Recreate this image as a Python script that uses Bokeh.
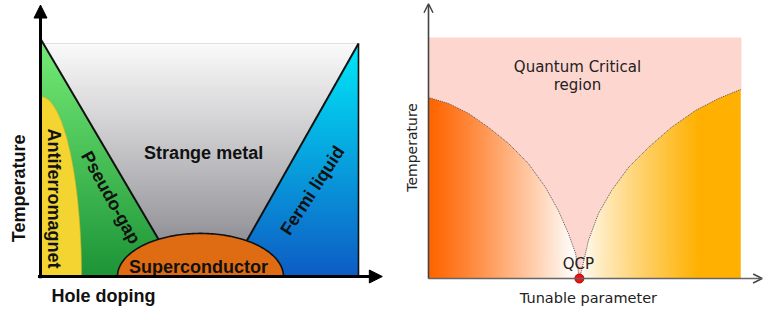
import numpy as np
from bokeh.plotting import figure
from bokeh.models import Range1d, Arrow, NormalHead, OpenHead, ColumnDataSource
from bokeh.layouts import row
from bokeh.embed import file_html
from bokeh.resources import INLINE
from bokeh.core.properties import value

# ================= Left panel: cuprate phase diagram (doping x, temperature T, normalised)
PG_LINE_X = [0.0, 0.44]        # pseudo-gap boundary (x at the two T values)
PG_LINE_T = [1.02, 0.0]
FL_LINE_X = [0.585, 1.0]       # Fermi-liquid boundary
FL_LINE_T = [0.0, 1.0]
DIAGRAM_RIGHT_X = 1.0
DIAGRAM_TOP_T = 1.0
AF_WIDTH = 0.129               # antiferromagnet dome (quarter ellipse)
AF_HEIGHT = 0.773
SC_CENTER = 0.503              # superconducting dome (half ellipse)
SC_HALF_WIDTH = 0.261
SC_HEIGHT = 0.185

LEFT_LABELS = ["Strange metal", "Antiferromagnet", "Pseudo-gap", "Fermi liquid", "Superconductor"]
LEFT_LABEL_X = [0.513, 0.041, 0.221, 0.855, 0.497]
LEFT_LABEL_T = [0.532, 0.335, 0.339, 0.369, 0.039]
LEFT_LABEL_ANGLE = [0, -90, -61, 57, 0]

# ================= Right panel: quantum critical point (tunable parameter g, temperature T)
QCP_G = 0.482
QC_TOP_T = 1.0
QC_RIGHT_G = 1.0
LEFT_PHASE_G = [0.0, 0.064, 0.128, 0.192, 0.256, 0.319, 0.374, 0.415, 0.447, 0.470, 0.482]
LEFT_PHASE_T = [0.751, 0.726, 0.685, 0.627, 0.560, 0.477, 0.378, 0.282, 0.187, 0.104, 0.0]
RIGHT_PHASE_G = [0.482, 0.489, 0.511, 0.543, 0.585, 0.639, 0.703, 0.776, 0.853, 0.927, 0.997]
RIGHT_PHASE_T = [0.0, 0.033, 0.158, 0.270, 0.365, 0.461, 0.544, 0.627, 0.697, 0.747, 0.784]


def mix(c0, c1, f):
    f = np.clip(np.nan_to_num(f), 0, 1)
    return ["#%02x%02x%02x" % tuple(int(round(a + (b - a) * t)) for a, b in zip(c0, c1)) for t in f]


def line_x(lx, lt, t):
    return lx[0] + (np.asarray(t) - lt[0]) * (lx[1] - lx[0]) / (lt[1] - lt[0])


H = 309
# ---------------------------------------------------------------- left figure
pL = figure(width=391, height=H, x_range=Range1d(-0.1258, 1.1038), y_range=Range1d(-0.1416, 1.1845),
            output_backend="svg", toolbar_location=None, min_border=0,
            x_axis_location=None, y_axis_location=None, outline_line_color=None,
            background_fill_color="white", border_fill_color="white")
pL.grid.visible = False

N = 140
ov = 0.006


def band_patches(t_lo, t_hi, left_fn, right_fn):
    e = np.linspace(t_lo, t_hi, N + 1)
    xs, ys, mids = [], [], []
    for a, b in zip(e[:-1], e[1:]):
        b2 = min(b + ov, t_hi)
        xs.append([left_fn(a), right_fn(a), right_fn(b2), left_fn(b2)])
        ys.append([a, a, b2, b2])
        mids.append((a + b) / 2)
    return xs, ys, np.array(mids)


pg = lambda t: float(line_x(PG_LINE_X, PG_LINE_T, t))
fl = lambda t: float(line_x(FL_LINE_X, FL_LINE_T, t))

# gray strange-metal band
xs, ys, m = band_patches(0.0, DIAGRAM_TOP_T, pg, fl)
pL.patches(xs, ys, fill_color=mix((138, 138, 144), (250, 250, 250), np.clip((m - 0.12) / 0.88, 0, 1) ** 0.9),
           line_color=None)
# green pseudo-gap band
xs, ys, m = band_patches(0.0, PG_LINE_T[0], lambda t: 0.0, pg)
pL.patches(xs, ys, fill_color=mix((28, 148, 55), (118, 236, 118), m / PG_LINE_T[0]), line_color=None)
# blue Fermi-liquid band
xs, ys, m = band_patches(0.0, DIAGRAM_TOP_T, fl, lambda t: DIAGRAM_RIGHT_X)
pL.patches(xs, ys, fill_color=mix((14, 92, 196), (0, 232, 248), m), line_color=None)

# antiferromagnet
th = np.linspace(0, np.pi / 2, 60)
pL.patch(np.r_[0, AF_WIDTH * np.cos(th)], np.r_[0, AF_HEIGHT * np.sin(th)],
         fill_color="#f3d431", line_color="#c9b02a", line_width=0.6)

# boundary lines
pg_top = line_x(PG_LINE_X, PG_LINE_T, DIAGRAM_TOP_T)
pL.line([float(pg_top), FL_LINE_X[1]], [DIAGRAM_TOP_T, DIAGRAM_TOP_T], line_color="#e0e0e0", line_width=1)
pL.line([PG_LINE_X[0], PG_LINE_X[1]], [PG_LINE_T[0], PG_LINE_T[1]], line_color="#111111", line_width=2)
pL.line(FL_LINE_X, FL_LINE_T, line_color="#111111", line_width=2)
pL.line([DIAGRAM_RIGHT_X, DIAGRAM_RIGHT_X], [0, DIAGRAM_TOP_T], line_color="#111111", line_width=1.6)

# superconducting dome (over the boundary lines)
th = np.linspace(0, np.pi, 120)
pL.patch(SC_CENTER + SC_HALF_WIDTH * np.cos(th), SC_HEIGHT * np.sin(th),
         fill_color="#df6c13", line_color="#111111", line_width=1.6)

# axes with arrows
pL.add_layout(Arrow(end=NormalHead(size=13, fill_color="black", line_color="black"),
                    x_start=-0.008, y_start=0, x_end=1.075, y_end=0, line_width=3, line_color="black"))
pL.add_layout(Arrow(end=NormalHead(size=13, fill_color="black", line_color="black"),
                    x_start=0, y_start=-0.008, x_end=0, y_end=1.165, line_width=3, line_color="black"))

src = ColumnDataSource(dict(x=LEFT_LABEL_X, y=LEFT_LABEL_T, text=LEFT_LABELS, angle=LEFT_LABEL_ANGLE))
bold = dict(text_font=value("Liberation Sans"), text_font_style="bold", text_font_size="18px",
            text_align="center", text_baseline="middle", text_color="#111111")
pL.text(x="x", y="y", text="text", angle="angle", angle_units="deg", source=src, **bold)
pL.text(x=[-0.069], y=[0.378], text=["Temperature"], angle=90, angle_units="deg", **bold)
pL.text(x=[0.198], y=[-0.082], text=["Hole doping"], **bold)

# ---------------------------------------------------------------- right figure
pR = figure(width=372, height=H, x_range=Range1d(-0.1182, 1.0703), y_range=Range1d(-0.1286, 1.1535),
            output_backend="svg", toolbar_location=None, min_border=0,
            x_axis_location=None, y_axis_location=None, outline_line_color=None,
            background_fill_color="white", border_fill_color="white")
pR.grid.visible = False

M = 120
step = 0.004
# left ordered phase: orange -> white towards the QCP
e = np.linspace(0.0, QCP_G, M + 1)
f = np.clip((0.5 * (e[:-1] + e[1:])) / 0.46, 0, 1) ** 1.15
pR.quad(left=e[:-1], right=np.minimum(e[1:] + step, QCP_G), bottom=0, top=0.85,
        fill_color=mix((255, 100, 0), (255, 252, 248), f), line_color=None)
# right phase: white at QCP -> amber
e = np.linspace(QCP_G, RIGHT_PHASE_G[-1], M + 1)
f = np.clip((0.5 * (e[:-1] + e[1:]) - 0.487) / 0.38, 0, 1) ** 0.85
pR.quad(left=e[:-1], right=np.minimum(e[1:] + step, RIGHT_PHASE_G[-1]), bottom=0, top=0.85,
        fill_color=mix((255, 252, 248), (255, 176, 0), f), line_color=None)

# quantum critical region
qx = [0.0] + LEFT_PHASE_G + RIGHT_PHASE_G[1:] + [QC_RIGHT_G, QC_RIGHT_G]
qy = [QC_TOP_T] + LEFT_PHASE_T + RIGHT_PHASE_T[1:] + [RIGHT_PHASE_T[-1], QC_TOP_T]
pR.patch(qx, qy, fill_color="#fed6d0", line_color=None)

pR.line(LEFT_PHASE_G, LEFT_PHASE_T, line_color="#555555", line_width=1, line_dash="1 1")
pR.line(RIGHT_PHASE_G, RIGHT_PHASE_T, line_color="#555555", line_width=1, line_dash="1 1")

pR.add_layout(Arrow(end=OpenHead(size=9, line_color="#444444", line_width=1.5),
                    x_start=0, y_start=0, x_end=1.066, y_end=0, line_width=1.6, line_color="#666666"))
pR.add_layout(Arrow(end=OpenHead(size=9, line_color="#444444", line_width=1.5),
                    x_start=0, y_start=0, x_end=0, y_end=1.14, line_width=1.6, line_color="#444444"))

pR.scatter([QCP_G], [0], size=9, fill_color="#ee1111", line_color="#b00000", line_width=1)

norm = dict(text_font=value("DejaVu Sans"), text_align="center", text_baseline="middle", text_color="#222222")
pR.text(x=[0.476, 0.476], y=[0.876, 0.801], text=["Quantum Critical", "region"], text_font_size="15px", **norm)
pR.text(x=[0.479], y=[0.062], text=["QCP"], text_font_size="15px", **norm)
pR.text(x=[0.511], y=[-0.079], text=["Tunable parameter"], text_font_size="14.5px", **norm)
pR.text(x=[-0.054], y=[0.544], text=["Temperature"], angle=90, angle_units="deg", text_font_size="14px", **norm)

layout = row(pL, pR, spacing=0)
open("out.html", "w").write(file_html(layout, INLINE))
